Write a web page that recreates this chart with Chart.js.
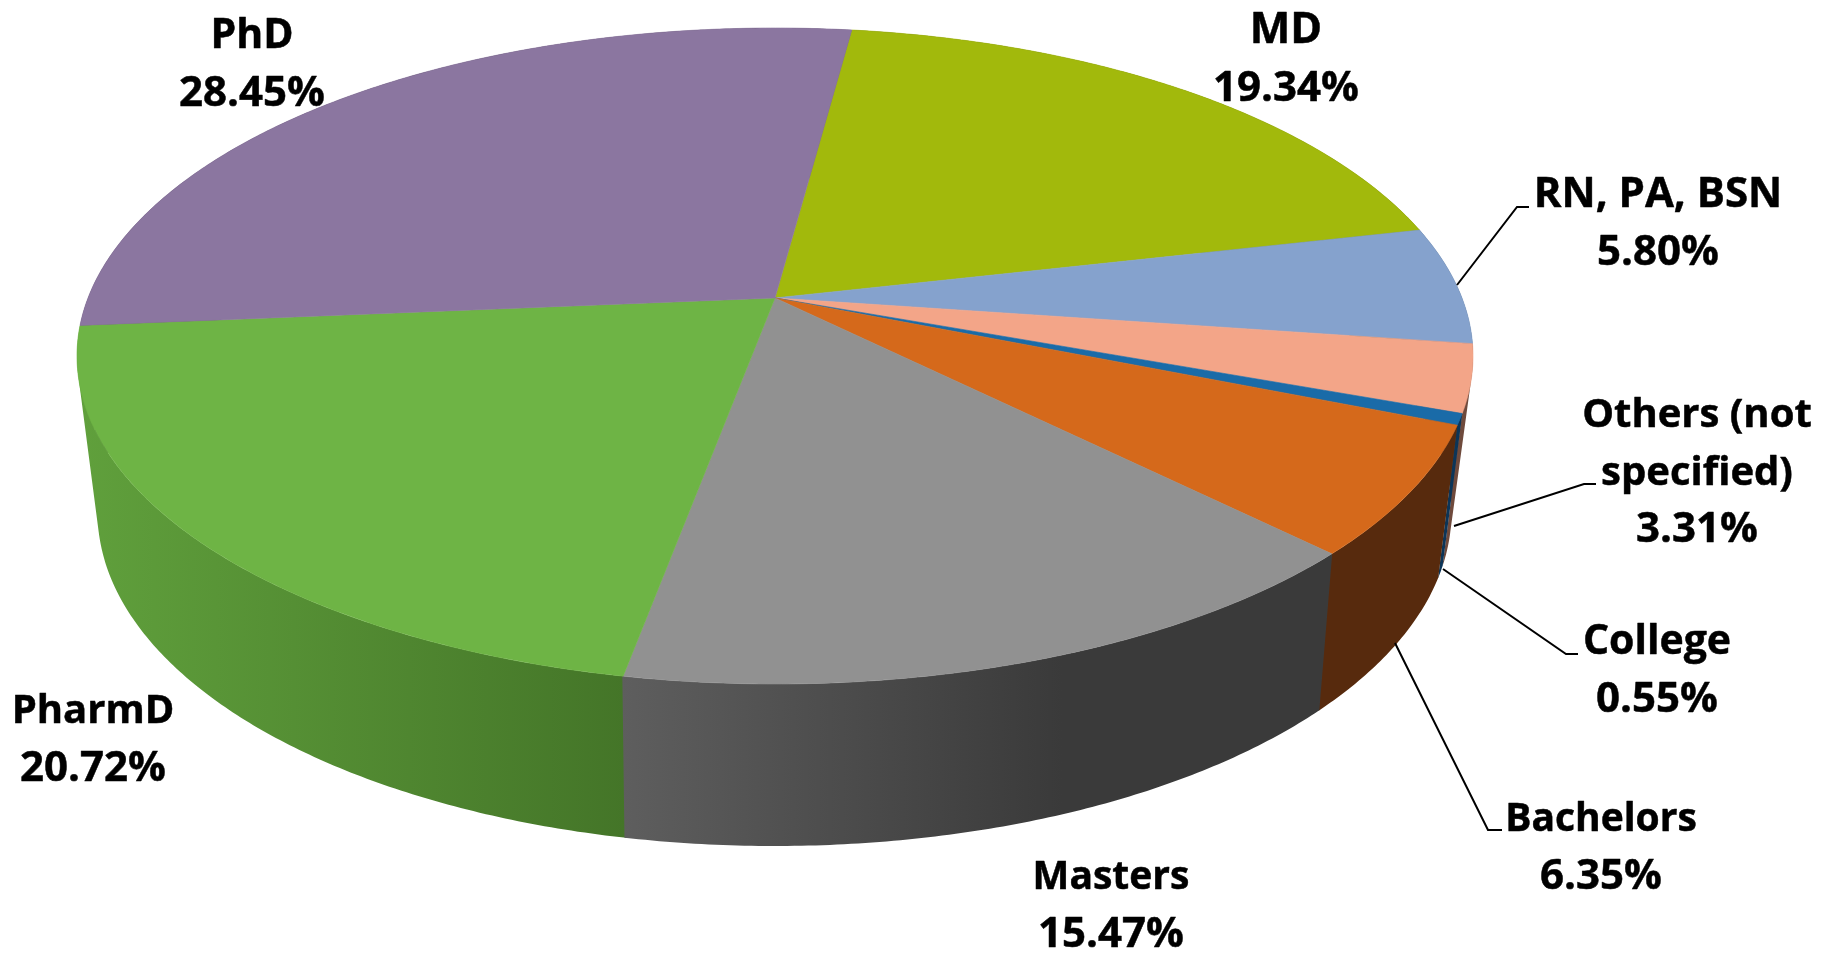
<!DOCTYPE html>
<html>
<head>
<meta charset="utf-8">
<style>html,body{margin:0;padding:0;background:#fff}canvas{display:block}</style>
<script src="https://cdn.jsdelivr.net/npm/chart.js@4"></script>
</head>
<body>
<canvas id="c" width="1826" height="959"></canvas>
<script>
const categories = ['MD','RN, PA, BSN','Others (not specified)','College','Bachelors','Masters','PharmD','PhD'];
const values = [19.34,5.80,3.31,0.55,6.35,15.47,20.72,28.45];
const topColors = ['#a2b90c','#85a2cd','#f3a588','#1a6ba8','#d5691b','#919191','#6eb445','#8b76a0'];
const wallStart = ['#515c06','#425166','#6f4a3c','#0c3558','#572a0d','#5e5e5e','#60a03c','#453b50'];
const wallEnd   = ['#515c06','#425166','#6f4a3c','#0c3558','#572a0d','#3a3a3a','#447528','#453b50'];
const wallEndStop = [1,1,1,1,1,0.62,1,1];
const labelLines = [['MD'],['RN, PA, BSN'],['Others (not','specified)'],['College'],['Bachelors'],['Masters'],['PharmD'],['PhD']];
const labelNameSize = [43,42,40,41,39,39,40,41];
const valueSize = 42;
const labelCentreX = [1286,1658,1697,1657,1601,1111,93,252];
const labelFirstBaseline = [43,207,427,654,831,889,723,48];
const lineGap = 57.5;
const leaderX = [null,[1457,1517,1529],[1454,1584,1596],[1443,1566,1578],[1395,1488,1502],null,null,null];
const leaderY = [null,[285,207,207],[526,484,484],[569,654,654],[643,830,830],null,null,null];

const rimTop = {dx:0, dy:0, a:698/356, b:328/356, tilt:-0.177};
const rimLow = {dx:-0.5/356, dy:156/356, a:677/356, b:334/356, tilt:-0.19};
const wallOverlap = 0.001;
function project(el, ang, rim){
  const u=Math.cos(ang), v=Math.sin(ang), R=el.outerRadius, w=1+rim.tilt*v;
  const X=Math.sqrt(1-rim.tilt*rim.tilt)*u/w, Y=(v+rim.tilt)/w;
  return [el.x+R*(rim.dx+rim.a*X), el.y+R*(rim.dy+rim.b*Y)];
}
function angleSteps(a0,a1){
  const n=Math.max(2,Math.ceil((a1-a0)/(Math.PI/360))), out=[];
  for(let i=0;i<=n;i++) out.push(a0+(a1-a0)*i/n);
  return out;
}
Chart.ArcElement.prototype.draw=function(ctx){
  ctx.save();
  ctx.beginPath();
  ctx.moveTo(this.x, this.y+this.outerRadius*rimTop.b*rimTop.tilt);
  angleSteps(this.startAngle,this.endAngle).forEach(a=>{const p=project(this,a,rimTop);ctx.lineTo(p[0],p[1]);});
  ctx.closePath();
  ctx.fillStyle=this.options.backgroundColor;
  ctx.fill();
  ctx.strokeStyle=this.options.backgroundColor;
  ctx.lineWidth=0.6;
  ctx.stroke();
  ctx.restore();
};
const wallPlugin={
  id:'walls',
  beforeDatasetsDraw(chart){
    const ctx=chart.ctx, arcs=chart.getDatasetMeta(0).data;
    const order=arcs.map((el,i)=>i).sort((i,j)=>
      Math.sin((arcs[i].startAngle+arcs[i].endAngle)/2)-Math.sin((arcs[j].startAngle+arcs[j].endAngle)/2));
    ctx.save();
    order.forEach(i=>{
      const el=arcs[i], steps=angleSteps(el.startAngle-wallOverlap,el.endAngle+wallOverlap);
      const up=steps.map(a=>project(el,a,rimTop)), low=steps.map(a=>project(el,a,rimLow));
      const xs=low.map(p=>p[0]).concat(up.map(p=>p[0]));
      const g=ctx.createLinearGradient(Math.min(...xs),0,Math.max(...xs),0);
      g.addColorStop(0,wallStart[i]);
      g.addColorStop(wallEndStop[i],wallEnd[i]);
      ctx.fillStyle=g;
      ctx.beginPath();
      for(let k=0;k<steps.length-1;k++){
        const q=[up[k],up[k+1],low[k+1],low[k]];
        let area=0;
        q.forEach((p,n)=>{const r=q[(n+1)%4];area+=p[0]*r[1]-r[0]*p[1];});
        if(area<0)q.reverse();
        q.forEach((p,n)=>n?ctx.lineTo(p[0],p[1]):ctx.moveTo(p[0],p[1]));
        ctx.closePath();
      }
      ctx.fill('nonzero');
    });
    ctx.restore();
  }
};
const labelPlugin={
  id:'sliceLabels',
  afterDatasetsDraw(chart){
    const ctx=chart.ctx;
    ctx.save();
    ctx.strokeStyle='#000';ctx.lineWidth=2;ctx.lineJoin='miter';
    leaderX.forEach((xs,i)=>{
      if(!xs)return;
      ctx.beginPath();
      xs.forEach((x,k)=>k?ctx.lineTo(x,leaderY[i][k]):ctx.moveTo(x,leaderY[i][k]));
      ctx.stroke();
    });
    ctx.fillStyle='#000';ctx.textAlign='center';ctx.textBaseline='alphabetic';
    ctx.lineWidth=0.5;ctx.lineJoin='round';
    const put=(t,x,y)=>{ctx.fillText(t,x,y);ctx.strokeText(t,x,y);};
    categories.forEach((c,i)=>{
      const names=labelLines[i];
      names.forEach((t,k)=>{
        ctx.font='bold '+labelNameSize[i]+'px "Open Sans"';
        put(t,labelCentreX[i],labelFirstBaseline[i]+k*lineGap);
      });
      ctx.font='bold '+valueSize+'px "Open Sans"';
      put(values[i].toFixed(2)+'%',labelCentreX[i],labelFirstBaseline[i]+names.length*lineGap);
    });
    ctx.restore();
  }
};
new Chart(document.getElementById('c'),{
  type:'pie',
  data:{labels:categories,datasets:[{data:values,backgroundColor:topColors,borderWidth:0}]},
  options:{
    responsive:false,animation:false,rotation:7.55,
    layout:{padding:{left:0,top:0,right:276,bottom:247}},
    plugins:{legend:{display:false},tooltip:{enabled:false}}
  },
  plugins:[wallPlugin,labelPlugin]
});
</script>
</body>
</html>
